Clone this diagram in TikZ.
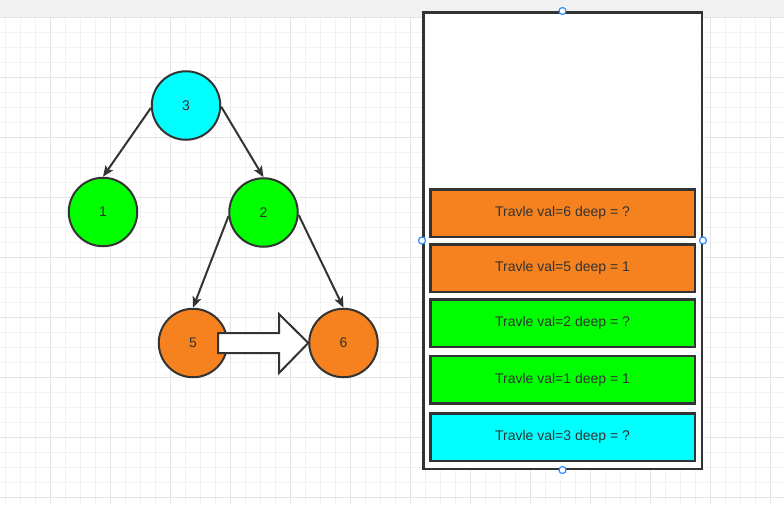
\documentclass[tikz,border=0pt]{standalone}
\usepackage{fontspec}
\setmainfont{Liberation Sans}
\usetikzlibrary{arrows.meta}
\definecolor{ink}{HTML}{333333}
\definecolor{gminor}{HTML}{F2F2F2}
\definecolor{gmajor}{HTML}{E5E5E5}
\definecolor{topbar}{HTML}{F1F1F1}
\definecolor{orng}{HTML}{F5821F}
\definecolor{grn}{HTML}{00FF00}
\definecolor{cyn}{HTML}{00FFFF}
\definecolor{hbl}{HTML}{2B8CFF}
\begin{document}
\begin{tikzpicture}[x=1pt,y=-1pt,
  tnode/.style={circle, draw=ink, line width=2pt, minimum size=68.5pt, inner sep=0pt, text=ink, font=\fontsize{14}{16}\selectfont},
  edge/.style={draw=ink, line width=2pt, -{Stealth[length=11pt,width=9pt,inset=2.5pt]}},
  frame/.style={draw=ink, line width=2.5pt, fill=white, minimum width=278.5pt, minimum height=456.5pt, inner sep=0pt},
  stackbox/.style={draw=ink, line width=2.5pt, minimum width=264.5pt, minimum height=47.5pt, inner sep=0pt, text=ink, font=\fontsize{14}{16}\selectfont},
  handle/.style={circle, draw=hbl, fill=white, line width=1.2pt, minimum size=7pt, inner sep=0pt},
  bigarrow/.style={draw=ink, line width=2pt, fill=white, line join=miter}]
\useasboundingbox (0,0) rectangle (784,504);
\fill[white] (0,0) rectangle (784,504);
% grid
\foreach \x in {5,20,...,785} \draw[gminor, line width=1pt] (\x,17) -- (\x,504);
\foreach \y in {32,47,...,504} \draw[gminor, line width=1pt] (0,\y) -- (784,\y);
\foreach \x in {50,110,...,770} \draw[gmajor, line width=1pt] (\x,17) -- (\x,504);
\foreach \y in {77,137,...,504} \draw[gmajor, line width=1pt] (0,\y) -- (784,\y);
\fill[topbar] (0,0) rectangle (784,17);
\draw[gmajor, line width=1pt] (0,17.5) -- (784,17.5);
% stack frame
\node[frame] (frame) at (562.5,240.5) {};
\node[stackbox, fill=orng] (s6) at (562.5,213) {Travle val=6 deep = ?};
\node[stackbox, fill=orng] (s5) at (562.5,268) {Travle val=5 deep = 1};
\node[stackbox, fill=grn] (s2) at (562.5,323) {Travle val=2 deep = ?};
\node[stackbox, fill=grn] (s1) at (562.5,379.5) {Travle val=1 deep = 1};
\node[stackbox, fill=cyn] (s3) at (562.5,437) {Travle val=3 deep = ?};
% tree
\node[tnode, fill=cyn] (n3) at (186,105.5) {3};
\node[tnode, fill=grn] (n1) at (103,212) {1};
\node[tnode, fill=grn] (n2) at (263.5,212.5) {2};
\node[tnode, fill=orng] (n5) at (193,343) {5};
\node[tnode, fill=orng] (n6) at (343.5,343) {6};
\draw[edge] (n3.184) -- (n1.north);
\draw[edge] (n3.358) -- (n2.north);
\draw[edge] (n2.186) -- (n5.north);
\draw[edge] (n2.356) -- (n6.north);
% block arrow from 5 to 6
\coordinate (ba) at (218,343);
\draw[bigarrow] (ba) ++(0,-10) -- (279,333) -- (279,314) -- (n6.west) -- (279,373) -- (279,353) -- (218,353) -- cycle;
% handles
\node[handle] at (frame.north) {};
\node[handle] at (frame.south) {};
\node[handle] at (frame.west) {};
\node[handle] at (frame.east) {};
\end{tikzpicture}
\end{document}
